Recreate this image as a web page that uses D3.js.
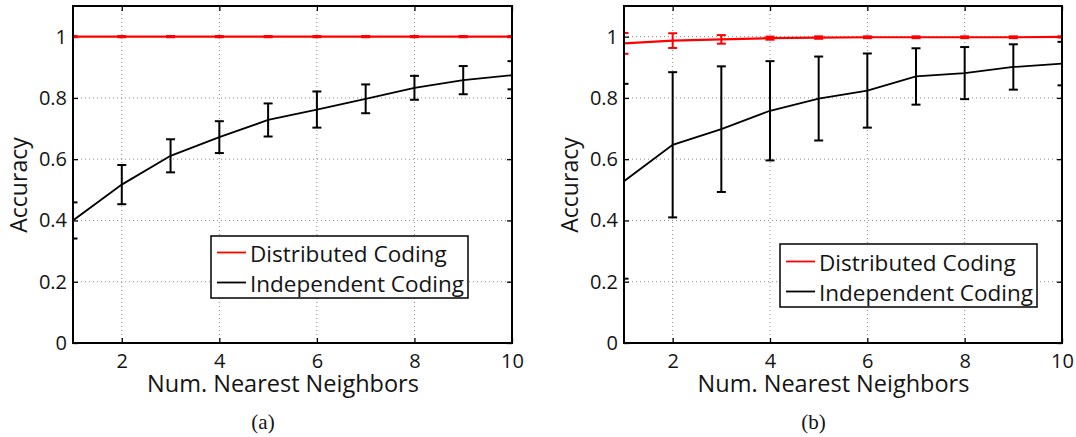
<!DOCTYPE html>
<html>
<head>
<meta charset="utf-8">
<script src="https://cdn.jsdelivr.net/npm/d3@7"></script>
<style>
  html, body { margin: 0; padding: 0; background: #fff; }
  svg { display: block; }
</style>
</head>
<body>
<div id="chart"></div>
<script>
// Shared categories / ticks
const neighbors = [1, 2, 3, 4, 5, 6, 7, 8, 9, 10];
const xTicks = [2, 4, 6, 8, 10];
const yTicks = [0, 0.2, 0.4, 0.6, 0.8, 1];
const seriesNames = ['Distributed Coding', 'Independent Coding'];

// Panel (a)
const distA = [1, 1, 1, 1, 1, 1, 1, 1, 1, 1];
const distAErr = [0.002, 0.002, 0.002, 0.002, 0.002, 0.002, 0.002, 0.002, 0.002, 0.002];
const indepA = [0.40, 0.517, 0.611, 0.672, 0.728, 0.762, 0.797, 0.833, 0.858, 0.874];
const indepAErr = [0.059, 0.064, 0.054, 0.052, 0.054, 0.059, 0.047, 0.039, 0.046, 0.046];

// Panel (b)
const distB = [0.978, 0.987, 0.991, 0.995, 0.997, 0.998, 0.998, 0.998, 0.998, 0.999];
const distBErr = [0.034, 0.024, 0.014, 0.005, 0.004, 0.003, 0.003, 0.003, 0.003, 0.002];
const indepB = [0.528, 0.647, 0.698, 0.758, 0.798, 0.824, 0.870, 0.881, 0.901, 0.912];
const indepBErr = [0.318, 0.237, 0.205, 0.162, 0.137, 0.121, 0.092, 0.085, 0.074, 0.071];

const width = 1076;
const height = 437;
const FONT = '"Open Sans", "DejaVu Sans", sans-serif';
const INK = '#141414';

const svg = d3.select('#chart').append('svg')
    .attr('width', width)
    .attr('height', height)
    .attr('viewBox', [0, 0, width, height]);

function drawPanel(opts) {
    const { left, right, top, bottom, dist, distErr, indep, indepErr, legend, caption, id } = opts;

    const x = d3.scaleLinear().domain([1, 10]).range([left, right]);
    const y = d3.scaleLinear().domain([0, 1.1]).range([bottom, top]);
    const midX = (left + right) / 2;

    const g = svg.append('g');

    // clip marks to the axes box like matlab does
    svg.append('defs').append('clipPath').attr('id', id)
        .append('rect')
        .attr('x', left).attr('y', top)
        .attr('width', right - left).attr('height', bottom - top);

    // dotted grid
    const grid = g.append('g')
        .attr('stroke', '#8c8c8c')
        .attr('stroke-width', 1)
        .attr('stroke-dasharray', '1,3');
    grid.selectAll('line.gx').data(xTicks.filter(t => t < 10)).join('line')
        .attr('class', 'gx')
        .attr('x1', d => x(d)).attr('x2', d => x(d))
        .attr('y1', top).attr('y2', bottom);
    grid.selectAll('line.gy').data(yTicks.filter(t => t > 0)).join('line')
        .attr('class', 'gy')
        .attr('x1', left).attr('x2', right)
        .attr('y1', d => y(d)).attr('y2', d => y(d));

    // axes (ticks inward on all four sides)
    const tickLen = 5;
    g.append('g').attr('transform', `translate(0,${bottom})`)
        .call(d3.axisBottom(x).tickValues(xTicks).tickSizeInner(-tickLen).tickSizeOuter(0).tickPadding(11).tickFormat(d3.format('d')));
    g.append('g').attr('transform', `translate(0,${top})`)
        .call(d3.axisTop(x).tickValues(xTicks).tickSizeInner(-tickLen).tickSizeOuter(0).tickFormat(''));
    g.append('g').attr('transform', `translate(${left},0)`)
        .call(d3.axisLeft(y).tickValues(yTicks).tickSizeInner(-tickLen).tickSizeOuter(0).tickPadding(6)
            .tickFormat(d => d === 0 || d === 1 ? d3.format('d')(d) : d3.format('.1f')(d)));
    g.append('g').attr('transform', `translate(${right},0)`)
        .call(d3.axisRight(y).tickValues(yTicks).tickSizeInner(-tickLen).tickSizeOuter(0).tickFormat(''));

    g.selectAll('.domain').remove();
    g.selectAll('.tick line').attr('stroke', '#000').attr('stroke-width', 1.3);
    g.selectAll('.tick text')
        .attr('font-family', FONT)
        .attr('font-size', 20)
        .attr('fill', INK);

    // series
    const series = [
        { vals: dist, err: distErr, color: '#ff0000', width: 2.2 },
        { vals: indep, err: indepErr, color: '#000000', width: 1.8 }
    ];
    const marks = g.append('g').attr('clip-path', `url(#${id})`);
    const line = d3.line().x(d => x(d.n)).y(d => y(d.v));
    const capW = 4.5;

    series.forEach(s => {
        const pts = neighbors.map((n, i) => ({ n, v: s.vals[i], e: s.err[i] }));
        marks.append('path')
            .datum(pts)
            .attr('fill', 'none')
            .attr('stroke', s.color)
            .attr('stroke-width', s.width)
            .attr('d', line);

        const eb = marks.append('g')
            .attr('stroke', s.color)
            .attr('stroke-width', 2);
        eb.selectAll('line.v').data(pts).join('line')
            .attr('class', 'v')
            .attr('x1', d => x(d.n)).attr('x2', d => x(d.n))
            .attr('y1', d => y(d.v - d.e)).attr('y2', d => y(d.v + d.e));
        ['lo', 'hi'].forEach(k => {
            eb.selectAll('line.' + k).data(pts).join('line')
                .attr('class', k)
                .attr('x1', d => x(d.n) - capW).attr('x2', d => x(d.n) + capW)
                .attr('y1', d => y(k === 'lo' ? d.v - d.e : d.v + d.e))
                .attr('y2', d => y(k === 'lo' ? d.v - d.e : d.v + d.e));
        });
    });

    // box
    g.append('rect')
        .attr('x', left).attr('y', top)
        .attr('width', right - left).attr('height', bottom - top)
        .attr('fill', 'none')
        .attr('stroke', '#000')
        .attr('stroke-width', 2);

    // legend
    const lg = g.append('g');
    lg.append('rect')
        .attr('x', legend.x).attr('y', legend.y)
        .attr('width', legend.w).attr('height', legend.h)
        .attr('fill', '#fff')
        .attr('stroke', '#000')
        .attr('stroke-width', 1.5);
    seriesNames.forEach((name, i) => {
        const cy = legend.y + legend.first + i * 30;
        lg.append('line')
            .attr('x1', legend.x + 6).attr('x2', legend.x + 35)
            .attr('y1', cy).attr('y2', cy)
            .attr('stroke', series[i].color)
            .attr('stroke-width', 1.8);
        lg.append('text')
            .attr('x', legend.x + 39).attr('y', cy + 9)
            .attr('font-family', FONT)
            .attr('font-size', 22.5)
            .attr('fill', INK)
            .text(name);
    });

    // axis titles
    g.append('text')
        .attr('x', midX - 9.5).attr('y', 392)
        .attr('text-anchor', 'middle')
        .attr('font-family', FONT)
        .attr('font-size', 23.5)
        .attr('fill', INK)
        .text('Num. Nearest Neighbors');
    g.append('text')
        .attr('transform', `translate(${left - 46},185) rotate(-90)`)
        .attr('text-anchor', 'middle')
        .attr('font-family', FONT)
        .attr('font-size', 23)
        .attr('fill', INK)
        .text('Accuracy');

    // caption
    g.append('text')
        .attr('x', midX - 29.5).attr('y', 429)
        .attr('text-anchor', 'middle')
        .attr('font-family', '"Liberation Serif", "Times New Roman", serif')
        .attr('font-size', 21)
        .attr('fill', INK)
        .text(caption);
}

drawPanel({
    id: 'clipA', left: 73, right: 512, top: 6, bottom: 343,
    dist: distA, distErr: distAErr, indep: indepA, indepErr: indepAErr,
    legend: { x: 211, y: 236, w: 257, h: 62, first: 16.5 },
    caption: '(a)'
});

drawPanel({
    id: 'clipB', left: 624, right: 1062, top: 6, bottom: 343,
    dist: distB, distErr: distBErr, indep: indepB, indepErr: indepBErr,
    legend: { x: 780, y: 244, w: 257, h: 63, first: 17.5 },
    caption: '(b)'
});
</script>
</body>
</html>
